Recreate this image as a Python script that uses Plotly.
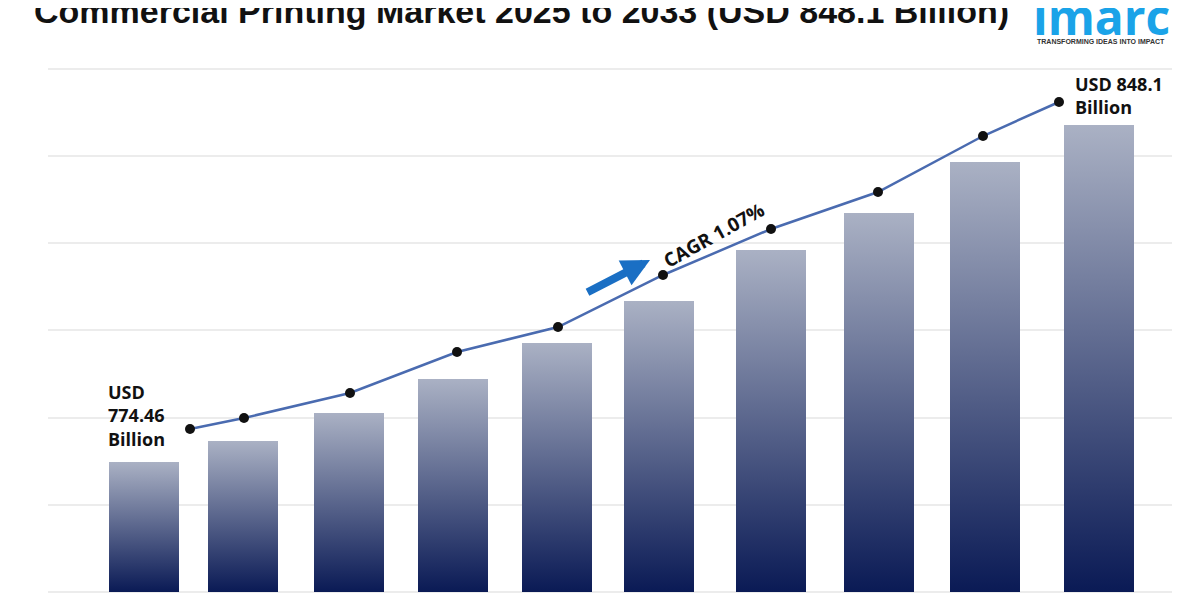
import plotly.graph_objects as go

bar_x = [144, 243, 349, 453, 557, 659, 771, 879, 985, 1099]
bar_h = [130, 151, 179, 213, 249, 291, 342, 379, 430, 467]
line_x = [190, 244, 350, 457, 558, 663, 771, 878, 983, 1059]
line_h = [163, 174, 199, 240, 265, 317, 363, 400, 456, 490]
grid_h = [0, 87, 174, 262, 349, 436, 523]
BASE = 591
W = 70
OFFX = 8
OFFY = 7

fig = go.Figure()
for g in grid_h:
    fig.add_shape(type="line", x0=48, x1=1172, y0=g, y1=g, line=dict(color="#d9d9d9", width=1), layer="below")

for x, h in zip(bar_x, bar_h):
    fig.add_trace(go.Scatter(
        x=[x - W/2, x + W/2, x + W/2, x - W/2, x - W/2],
        y=[0, 0, h, h, 0], mode="lines", fill="toself", line=dict(width=0),
        fillgradient=dict(type="vertical", colorscale=[[0, "#0a1a55"], [1, "#aab1c4"]]),
        hoverinfo="skip", showlegend=False))

fig.add_trace(go.Scatter(x=line_x, y=line_h, mode="lines+markers",
                         line=dict(color="#4a6bb0", width=2.5),
                         marker=dict(color="#111111", size=10), showlegend=False))

fig.add_annotation(x=106, y=BASE - 414, text="<b>USD<br>774.46<br>Billion</b>", showarrow=False,
                   xanchor="left", align="left", font=dict(size=18, color="#111", family="Open Sans"))
fig.add_annotation(x=1073, y=BASE - 94, text="<b>USD 848.1<br>Billion</b>", showarrow=False,
                   xanchor="left", align="left", font=dict(size=18, color="#111", family="Open Sans"))
fig.add_annotation(x=714, y=BASE - 234, text="<b>CAGR 1.07%</b>", showarrow=False, textangle=-29,
                   font=dict(size=19, color="#111", family="Open Sans"))
fig.add_annotation(x=650, y=BASE - 259, ax=586, ay=BASE - 292, xref="x", yref="y", axref="x", ayref="y",
                   showarrow=True, arrowhead=2, arrowsize=0.7, arrowwidth=8, arrowcolor="#1a6fc4", text="")
fig.add_annotation(x=521, xref="x", y=1, yref="paper", yanchor="middle", yshift=-3,
                   text="<b>Commercial Printing Market 2025 to 2033 (USD 848.1 Billion)</b>",
                   showarrow=False, font=dict(size=34, color="#111", family="Liberation Sans"))
fig.add_annotation(x=1101, xref="x", y=1, yref="paper", yanchor="middle", yshift=-8, text="<b>imarc</b>",
                   showarrow=False, font=dict(size=48, color="#1aa3e8", family="Open Sans"))
fig.add_annotation(x=1101, xref="x", y=1, yref="paper", yanchor="middle", yshift=-33,
                   text="<b>TRANSFORMING IDEAS INTO IMPACT</b>", showarrow=False,
                   font=dict(size=7, color="#333", family="Liberation Sans"))

fig.update_layout(width=1200, height=600, margin=dict(l=0, r=0, t=0, b=0),
                  plot_bgcolor="white", paper_bgcolor="white",
                  xaxis=dict(range=[OFFX, 1200 + OFFX], visible=False, fixedrange=True),
                  yaxis=dict(range=[BASE - 600 - OFFY, BASE - OFFY], visible=False, fixedrange=True))
fig.write_html("out.html")
